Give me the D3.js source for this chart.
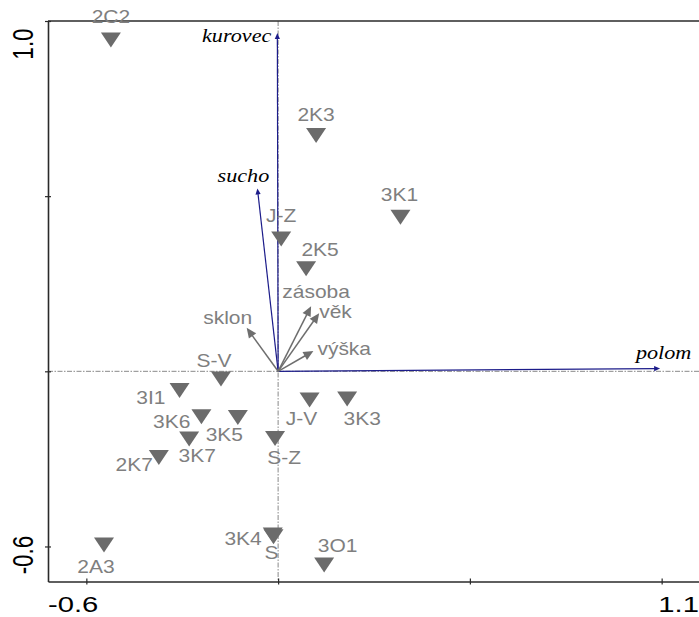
<!DOCTYPE html>
<html><head><meta charset="utf-8">
<script src="https://cdn.jsdelivr.net/npm/d3@7"></script>
<style>html,body{margin:0;padding:0;background:#fff;} svg{display:block}</style>
</head><body>
<script>
// Axis extents and tick positions
const xDomain = [-0.6, 1.1];
const yDomain = [-0.6, 1.0];
const tickValuesX = [-0.5, 0, 0.5, 1.0];
const tickValuesY = [-0.5, 0, 0.5, 1.0];

// Sample scores
const sites = ["2C2","2K3","3K1","J-Z","2K5","S-V","3I1","3K6","3K5","3K7","2K7","S-Z","J-V","3K3","3K4","S","3O1","2A3"];
const siteX = [-0.436,0.099,0.319,0.008,0.073,-0.149,-0.257,-0.200,-0.105,-0.232,-0.311,-0.008,0.082,0.180,-0.014,-0.012,0.120,-0.454];
const siteY = [0.946,0.673,0.440,0.378,0.293,-0.022,-0.055,-0.130,-0.132,-0.193,-0.246,-0.192,-0.082,-0.079,-0.467,-0.472,-0.553,-0.496];

// Disturbance variables (blue arrows)
const distVars = ["kurovec","sucho","polom"];
const distX = [-0.002,-0.054,0.996];
const distY = [0.966,0.522,0.008];

// Stand variables (grey arrows)
const envVars = ["sklon","zásoba","věk","výška"];
const envX = [-0.082,0.086,0.107,0.092];
const envY = [0.124,0.186,0.166,0.058];

// Label placement: [anchor, dx, dy] in pixels from the mark
const siteLabelPos = {
  "2C2":["middle",0,-17], "2K3":["middle",0,-15], "3K1":["middle",-1,-16],
  "J-Z":["middle",0,-17], "2K5":["middle",14,-13], "S-V":["middle",-7,-12],
  "3I1":["end",-14,13.5], "3K6":["end",-11,11], "3K5":["middle",-13.5,23.5],
  "3K7":["middle",8,23], "2K7":["end",-6,14], "S-Z":["middle",9,25.5],
  "J-V":["middle",-8,25], "3K3":["middle",15,26], "3K4":["end",-11,10],
  "S":["middle",-2,22.5], "3O1":["middle",13.5,-12.7], "2A3":["middle",-8,27.7]
};
const distLabelPos = {
  "kurovec":["end",-6,8.7], "sucho":["middle",-14,-6.6], "polom":["middle",3.5,-10]
};
const envLabelPos = {
  "sklon":["middle",-19,-3.7], "zásoba":["middle",5,-8], "věk":["start",0,4.4], "výška":["start",4,4]
};

const W = 699, H = 617;
const frameL = 48, frameR = 700, frameT = 21, frameB = 581.5;
const stretch = 1.2;

const svg = d3.select("body").append("svg").attr("width", W).attr("height", H);
const x = d3.scaleLinear().domain(xDomain).range([frameL, frameR]);
const y = d3.scaleLinear().domain(yDomain).range([frameB, frameT]);

function label(g, txt, px, py, anchor, opt) {
  return g.append("text")
    .attr("transform", `translate(${px},${py}) scale(${opt.sx || stretch},1)` + (opt.rot ? ` rotate(${opt.rot})` : ""))
    .attr("text-anchor", anchor)
    .attr("font-family", opt.family || "'Liberation Sans', Arial, sans-serif")
    .attr("font-size", opt.size || 17.5)
    .attr("font-style", opt.style || "normal")
    .attr("fill", opt.fill || "#7f7f7f")
    .text(txt);
}

function arrow(g, x0, y0, x1, y1, color, len, hw, sw) {
  const dx = x1 - x0, dy = y1 - y0, L = Math.hypot(dx, dy);
  const ux = dx / L, uy = dy / L;
  const bx = x1 - ux * len, by = y1 - uy * len;
  g.append("line").attr("x1", x0).attr("y1", y0).attr("x2", bx + ux).attr("y2", by + uy)
    .attr("stroke", color).attr("stroke-width", sw);
  g.append("path")
    .attr("d", `M${x1},${y1}L${bx - uy * hw},${by + ux * hw}L${bx + uy * hw},${by - ux * hw}Z`)
    .attr("fill", color);
}

// Zero cross lines
const cross = svg.append("g").attr("stroke", "#8a8a8a").attr("stroke-width", 1).attr("stroke-dasharray", "5,1.5,1.5,1.5");
cross.append("line").attr("x1", x(0)).attr("x2", x(0)).attr("y1", frameT).attr("y2", frameB);
cross.append("line").attr("x1", frameL).attr("x2", frameR).attr("y1", y(0)).attr("y2", y(0));

// Blue arrows
const gDist = svg.append("g");
distVars.forEach((n, i) => {
  arrow(gDist, x(0), y(0), x(distX[i]), y(distY[i]), "#1c1c8a", 6, 2.6, 1.2);
});
// Grey arrows
const gEnv = svg.append("g");
envVars.forEach((n, i) => {
  arrow(gEnv, x(0), y(0), x(envX[i]), y(envY[i]), "#6e6e6e", 10, 4.5, 1.5);
});

// Frame and axes
svg.append("line").attr("x1", frameL).attr("x2", W).attr("y1", frameT).attr("y2", frameT)
  .attr("stroke", "#2a2a2a").attr("stroke-width", 1.6);

const xAxis = svg.append("g").attr("transform", `translate(0,${frameB})`)
  .call(d3.axisBottom(x).tickValues(tickValuesX).tickSize(3).tickSizeOuter(0).tickFormat(""));
const yAxis = svg.append("g").attr("transform", `translate(${frameL},0)`)
  .call(d3.axisLeft(y).tickValues(tickValuesY).tickSize(3).tickSizeOuter(0).tickFormat(""));
[xAxis, yAxis].forEach(a => {
  a.select(".domain").attr("stroke", "#2a2a2a").attr("stroke-width", 1.6);
  a.selectAll(".tick line").attr("stroke", "#2a2a2a").attr("stroke-width", 1.2);
});
xAxis.selectAll(".tick line").attr("y1", -3);
yAxis.selectAll(".tick line").attr("x1", 3);

// Extent labels (plain hyphen for the minus sign)
const fmt = d3.formatLocale({ decimal: ".", thousands: ",", grouping: [3], currency: ["", ""], minus: "-" }).format(".1f");
const axisOpt = { size: 22.5, fill: "#000", sx: 1.3 };
label(svg, fmt(xDomain[0]), frameL, 611.5, "start", axisOpt);
label(svg, fmt(xDomain[1]), W, 611.5, "end", axisOpt);
label(svg, fmt(yDomain[1]), 33, 44, "middle", Object.assign({ rot: -90 }, axisOpt));
label(svg, fmt(yDomain[0]), 33, 555, "middle", Object.assign({ rot: -90 }, axisOpt));

// Sample triangles
const tri = "M-10,-7.5L10,-7.5L0,7.5Z";
const gSites = svg.append("g");
sites.forEach((n, i) => {
  gSites.append("path").attr("d", tri)
    .attr("transform", `translate(${x(siteX[i])},${y(siteY[i])})`)
    .attr("fill", "#6b6b6b");
});

// Labels
const gLab = svg.append("g");
sites.forEach((n, i) => {
  const p = siteLabelPos[n];
  label(gLab, n, x(siteX[i]) + p[1], y(siteY[i]) + p[2], p[0], {});
});
envVars.forEach((n, i) => {
  const p = envLabelPos[n];
  label(gLab, n, x(envX[i]) + p[1], y(envY[i]) + p[2], p[0], {});
});
distVars.forEach((n, i) => {
  const p = distLabelPos[n];
  label(gLab, n, x(distX[i]) + p[1], y(distY[i]) + p[2], p[0],
    { family: "'Liberation Serif', 'Times New Roman', serif", style: "italic", size: 18.5, fill: "#000" });
});
</script>
</body></html>
